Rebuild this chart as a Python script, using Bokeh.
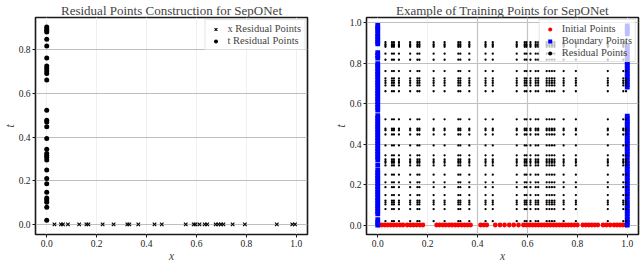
from bokeh.plotting import figure
from bokeh.layouts import row
from bokeh.models import Range1d, FixedTicker, Grid, Legend, LegendItem, PrintfTickFormatter
from bokeh.embed import file_html
from bokeh.resources import INLINE

# ---------------- data ----------------
x_res = [0.031, 0.057, 0.065, 0.085, 0.130, 0.159, 0.167, 0.224, 0.268, 0.323,
         0.331, 0.367, 0.432, 0.461, 0.557, 0.589, 0.596, 0.612, 0.633, 0.643,
         0.677, 0.688, 0.698, 0.708, 0.745, 0.794, 0.922, 0.984, 0.995]
t_res = [0.905, 0.895, 0.889, 0.882, 0.848, 0.818, 0.762, 0.726, 0.714, 0.703,
         0.691, 0.662, 0.523, 0.477, 0.469, 0.448, 0.394, 0.345, 0.325, 0.316,
         0.308, 0.295, 0.249, 0.211, 0.187, 0.148, 0.121, 0.112, 0.102, 0.079, 0.019]

init_x = [0.004, 0.016, 0.028, 0.040, 0.052, 0.064, 0.076, 0.089, 0.101,
          0.118, 0.131, 0.143, 0.156, 0.169, 0.181,
          0.236, 0.248, 0.261, 0.273, 0.286, 0.298, 0.311, 0.323, 0.336, 0.348, 0.360, 0.372,
          0.412, 0.425, 0.437,
          0.471, 0.490, 0.508, 0.527, 0.545, 0.564,
          0.584, 0.596, 0.608, 0.620, 0.632, 0.644, 0.656, 0.668, 0.680, 0.692,
          0.704, 0.716, 0.728, 0.740, 0.752, 0.764, 0.776, 0.788, 0.800,
          0.822, 0.834, 0.846, 0.858, 0.870, 0.882,
          0.903, 0.917, 0.931,
          0.947, 0.959, 0.971, 0.983, 0.995]

bnd_left_t = [0.964, 0.975, 0.988,
              0.896, 0.908, 0.921, 0.934, 0.947,
              0.826, 0.839, 0.853,
              0.569, 0.582, 0.596, 0.611, 0.624, 0.637, 0.651, 0.664, 0.679, 0.692,
              0.705, 0.718, 0.733, 0.746, 0.759, 0.773, 0.786, 0.798,
              0.324, 0.337, 0.351, 0.364, 0.378, 0.392, 0.405, 0.419, 0.432, 0.446,
              0.459, 0.473, 0.487, 0.500, 0.514, 0.528, 0.541,
              0.272, 0.297,
              0.055, 0.068, 0.082, 0.095, 0.109, 0.122, 0.136, 0.150, 0.163, 0.177,
              0.190, 0.204, 0.218, 0.231, 0.245, 0.258,
              0.000, 0.012, 0.026]

bnd_right_t = [0.946, 0.959, 0.973, 0.986,
               0.682, 0.695, 0.709, 0.722, 0.736, 0.749, 0.763, 0.776, 0.790, 0.803,
               0.817, 0.830, 0.844, 0.857, 0.871, 0.884,
               0.000, 0.013, 0.027, 0.040, 0.056, 0.069, 0.083, 0.096, 0.110, 0.123,
               0.140, 0.153, 0.167, 0.180, 0.194, 0.207, 0.221, 0.234, 0.248, 0.261,
               0.277, 0.290, 0.304, 0.317, 0.337, 0.350, 0.364, 0.377, 0.391, 0.404,
               0.418, 0.431, 0.445, 0.458, 0.472, 0.485, 0.499, 0.512, 0.526, 0.539]

x_ticks = [0.0, 0.2, 0.4, 0.6, 0.8, 1.0]
t_ticks_left = [0.0, 0.2, 0.4, 0.6, 0.8]
t_ticks_right = [0.0, 0.2, 0.4, 0.6, 0.8, 1.0]

titles = ["Residual Points Construction for SepONet", "Example of Training Points for SepONet"]

FONT = "Liberation Serif"


def style(p, xt, yt):
    p.title.text_font = FONT
    p.title.text_font_size = "13px"
    p.title.text_font_style = "normal"
    p.title.align = "center"
    p.title.standoff = 0
    p.title.offset = 0
    p.title.text_line_height = 0.85
    p.outline_line_color = "#1a1a1a"
    p.outline_line_width = 1.6
    p.xaxis.ticker = FixedTicker(ticks=xt)
    p.yaxis.ticker = FixedTicker(ticks=yt)
    p.xaxis.formatter = PrintfTickFormatter(format="%.1f")
    p.yaxis.formatter = PrintfTickFormatter(format="%.1f")
    for ax in (p.xaxis[0], p.yaxis[0]):
        ax.axis_line_color = None
        ax.major_tick_line_color = "#1a1a1a"
        ax.major_tick_out = 3
        ax.major_tick_in = 0
        ax.minor_tick_line_color = None
        ax.major_label_text_font = FONT
        ax.major_label_text_font_size = "9.5px"
        ax.major_label_text_color = "#222222"
        ax.major_label_standoff = 2
        ax.axis_label_text_font = FONT
        ax.axis_label_text_font_size = "11.5px"
        ax.axis_label_text_font_style = "italic"
        ax.axis_label_standoff = 0
    p.xaxis.axis_label = "x"
    p.yaxis.axis_label = "t"
    p.ygrid.grid_line_color = "#b8b8b8"
    p.ygrid.grid_line_width = 0.9
    p.xgrid.grid_line_color = "#eeeeee"
    p.xgrid.grid_line_width = 0.9


def legend_style(lg):
    lg.location = "top_right"
    lg.border_line_color = "#cccccc"
    lg.border_line_width = 1
    lg.background_fill_alpha = 0.75
    lg.label_text_font = FONT
    lg.label_text_font_size = "10.5px"
    lg.label_text_line_height = 1.0
    lg.label_height = 10
    lg.glyph_height = 10
    lg.glyph_width = 14
    lg.label_standoff = 5
    lg.spacing = 1
    lg.padding = 3
    lg.margin = 2


# ---------------- left plot ----------------
p1 = figure(frame_width=272, frame_height=217, output_backend="svg", toolbar_location=None,
            title=titles[0], x_range=Range1d(-0.045, 1.045), y_range=Range1d(-0.046, 0.948),
            min_border_left=0, min_border_right=24, min_border_top=0, min_border_bottom=0)
style(p1, x_ticks, t_ticks_left)
r_x = p1.scatter(x_res, [0.0] * len(x_res), marker="x", size=5, line_color="black", line_width=1.1)
r_t = p1.scatter([0.0] * len(t_res), t_res, marker="circle", size=5, fill_color="black", line_color=None)
lg1 = Legend(items=[LegendItem(label="x Residual Points", renderers=[r_x]),
                    LegendItem(label="t Residual Points", renderers=[r_t])])
legend_style(lg1)
p1.add_layout(lg1, "center")

# ---------------- right plot ----------------
p2 = figure(frame_width=272, frame_height=217, output_backend="svg", toolbar_location=None,
            title=titles[1], x_range=Range1d(-0.045, 1.045), y_range=Range1d(-0.047, 1.027),
            min_border_left=0, min_border_right=2, min_border_top=0, min_border_bottom=0)
style(p2, x_ticks, t_ticks_right)
extra = Grid(dimension=0, ticker=FixedTicker(ticks=[0.4, 0.6]), grid_line_color="#c4c4c4",
             grid_line_width=1.2)
p2.add_layout(extra)

r_i = p2.scatter(init_x, [0.0] * len(init_x), marker="circle", size=4.8,
                 fill_color="#ff0000", line_color=None)
bx = [0.0] * len(bnd_left_t) + [1.0] * len(bnd_right_t)
bt = bnd_left_t + bnd_right_t
r_b = p2.scatter(bx, bt, marker="square", size=4.8, fill_color="#0000ff", line_color=None)
gx = [xv for xv in x_res for tv in t_res]
gt = [tv for xv in x_res for tv in t_res]
r_r = p2.scatter(gx, gt, marker="circle", size=2.3, fill_color="black", line_color=None)
lg2 = Legend(items=[LegendItem(label="Initial Points", renderers=[r_i]),
                    LegendItem(label="Boundary Points", renderers=[r_b]),
                    LegendItem(label="Residual Points", renderers=[r_r])])
legend_style(lg2)
p2.add_layout(lg2, "center")

layout = row(p1, p2, spacing=0)
open("out.html", "w").write(file_html(layout, INLINE))
